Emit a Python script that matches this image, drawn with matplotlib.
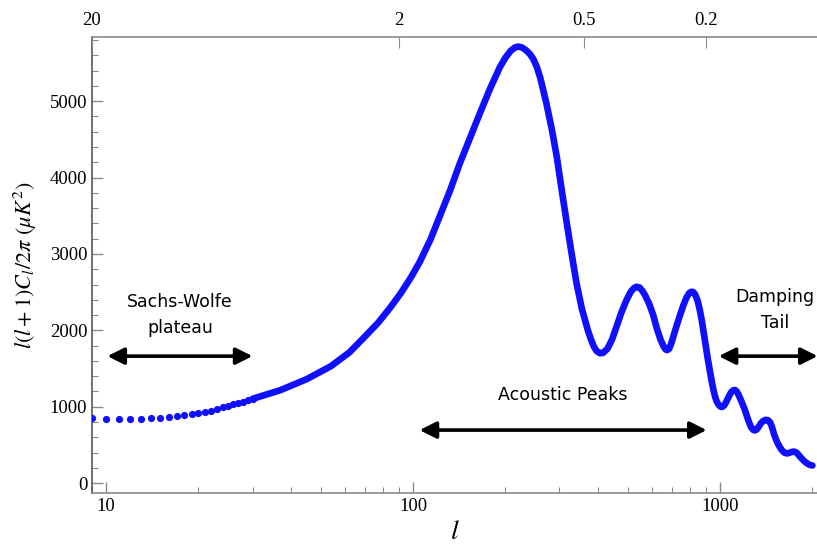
import numpy as np
import matplotlib.pyplot as plt
from matplotlib.ticker import FixedLocator, MultipleLocator, NullFormatter, LogLocator

plt.rcParams['mathtext.fontset'] = 'stix'
plt.rcParams['font.family'] = ['Liberation Serif', 'DejaVu Serif']

# low multipoles: one dot per l
l_low = list(range(9, 31))
dl_low = [846, 842, 838, 838, 842, 846, 855, 864, 877, 890, 899,
          912, 930, 948, 968, 990, 1010, 1030, 1050, 1068, 1086, 1103]

# higher multipoles: dots merge into a thick line
l_line = [30, 37, 45, 54, 62, 69, 77, 84, 91, 98, 105, 114, 122, 132, 142,
          153, 165, 178, 192, 200, 208, 215, 220, 226, 233, 240, 246, 253,
          260, 272, 283, 294, 305, 317, 329, 341, 355, 371, 380, 388, 396,
          406, 416, 430, 445, 460, 477, 495, 512, 525, 535, 547, 558, 570,
          588, 606, 623, 640, 655, 665, 673, 683, 694, 705, 722, 741, 760,
          778, 795, 807, 818, 830, 845, 858, 872, 886, 900, 913, 927, 940,
          952, 964, 975, 988, 1000, 1010, 1020, 1033, 1045, 1060, 1075, 1090,
          1105, 1119, 1133, 1145, 1160, 1183, 1206, 1225, 1245, 1263, 1283,
          1302, 1322, 1340, 1360, 1385, 1410, 1436, 1458, 1478, 1500, 1533,
          1566, 1595, 1622, 1648, 1672, 1700, 1728, 1754, 1780, 1810, 1840,
          1867, 1900, 1935, 1963, 2000]
dl_line = [1103, 1217, 1360, 1530, 1710, 1900, 2100, 2290, 2480, 2680, 2890,
           3190, 3486, 3830, 4184, 4510, 4839, 5160, 5449, 5570, 5660, 5705,
           5715, 5705, 5670, 5620, 5559, 5450, 5300, 4970, 4640, 4271, 3840,
           3399, 2990, 2614, 2280, 2003, 1880, 1790, 1730, 1700, 1705, 1760,
           1880, 2046, 2230, 2390, 2505, 2555, 2570, 2560, 2520, 2460, 2345,
           2200, 2020, 1880, 1790, 1750, 1741, 1760, 1830, 1920, 2060, 2200,
           2330, 2430, 2490, 2505, 2500, 2470, 2390, 2280, 2134, 1960, 1780,
           1620, 1470, 1330, 1220, 1130, 1070, 1030, 1005, 997, 1000, 1020,
           1055, 1105, 1155, 1195, 1215, 1218, 1200, 1170, 1120, 1040, 955,
           870, 790, 730, 697, 690, 710, 745, 785, 815, 828, 822, 790, 730,
           640, 540, 470, 425, 398, 389, 392, 403, 412, 410, 395, 360, 328,
           300, 272, 250, 238, 230]

# top axis: angular scale in degrees (theta ~ 180/l)
top_labels = ["20", "2", "0.5", "0.2"]
top_l = [9, 90, 360, 900]

blue = '#1010ff'
grey = '#8a8a8a'

fig = plt.figure(figsize=(8.17, 5.45), dpi=100)
ax = fig.add_axes([0.1126, 0.0954, 0.8874, 0.8366])

ax.plot(l_line, dl_line, color=blue, lw=4.8, solid_joinstyle='round',
        solid_capstyle='round', zorder=3)
ax.plot(l_low, dl_low, 'o', color=blue, ms=5.2, mec='none', zorder=3)

ax.set_xscale('log')
ax.set_xlim(9, 2070)
ax.set_ylim(-130, 5840)

ax.xaxis.set_major_locator(FixedLocator([10, 100, 1000]))
ax.xaxis.set_major_formatter(plt.FixedFormatter(["10", "100", "1000"]))
ax.xaxis.set_minor_locator(LogLocator(base=10, subs=np.arange(2, 10)))
ax.xaxis.set_minor_formatter(NullFormatter())
ax.yaxis.set_major_locator(MultipleLocator(1000))
ax.yaxis.set_minor_locator(MultipleLocator(200))

ax.tick_params(which='both', direction='in', color=grey, labelsize=13.5,
               top=False, right=False)
ax.tick_params(which='major', length=8, width=1)
ax.tick_params(which='minor', length=4.5, width=0.8)

for side in ['left', 'bottom', 'top']:
    ax.spines[side].set_color(grey)
    ax.spines[side].set_linewidth(1.2)
ax.spines['left'].set_color('#555555')
ax.spines['right'].set_visible(False)

ax2 = ax.twiny()
ax2.set_xscale('log')
ax2.set_xlim(ax.get_xlim())
ax2.xaxis.set_major_locator(FixedLocator(top_l))
ax2.xaxis.set_major_formatter(plt.FixedFormatter(top_labels))
ax2.xaxis.set_minor_locator(plt.NullLocator())
ax2.tick_params(direction='in', color=grey, length=8, labelsize=13.5, pad=6)
for side in ax2.spines:
    ax2.spines[side].set_visible(False)

ax.set_xlabel(r'$l$', fontsize=20, labelpad=4)
ax.set_ylabel(r'$l(l+1)C_l/2\pi\ (\mu K^2)$', fontsize=16, labelpad=8)

note = dict(fontsize=12.5, family='DejaVu Sans', ha='center', va='center',
            linespacing=1.6)
arrow = dict(arrowstyle='<|-|>,head_length=1.0,head_width=0.5',
             color='black', lw=2.6, shrinkA=0, shrinkB=0)

ax.text(17.4, 2200, "Sachs-Wolfe\nplateau", **note)
ax.annotate('', xy=(10.1, 1662), xytext=(30, 1662), arrowprops=arrow)

ax.text(308, 1152, "Acoustic Peaks", **note)
ax.annotate('', xy=(105, 694), xytext=(905, 694), arrowprops=arrow)

ax.text(1510, 2264, "Damping\nTail", **note)
ax.annotate('', xy=(990, 1662), xytext=(2080, 1662), arrowprops=arrow,
            annotation_clip=False)

fig.savefig('out.png', dpi=100)
